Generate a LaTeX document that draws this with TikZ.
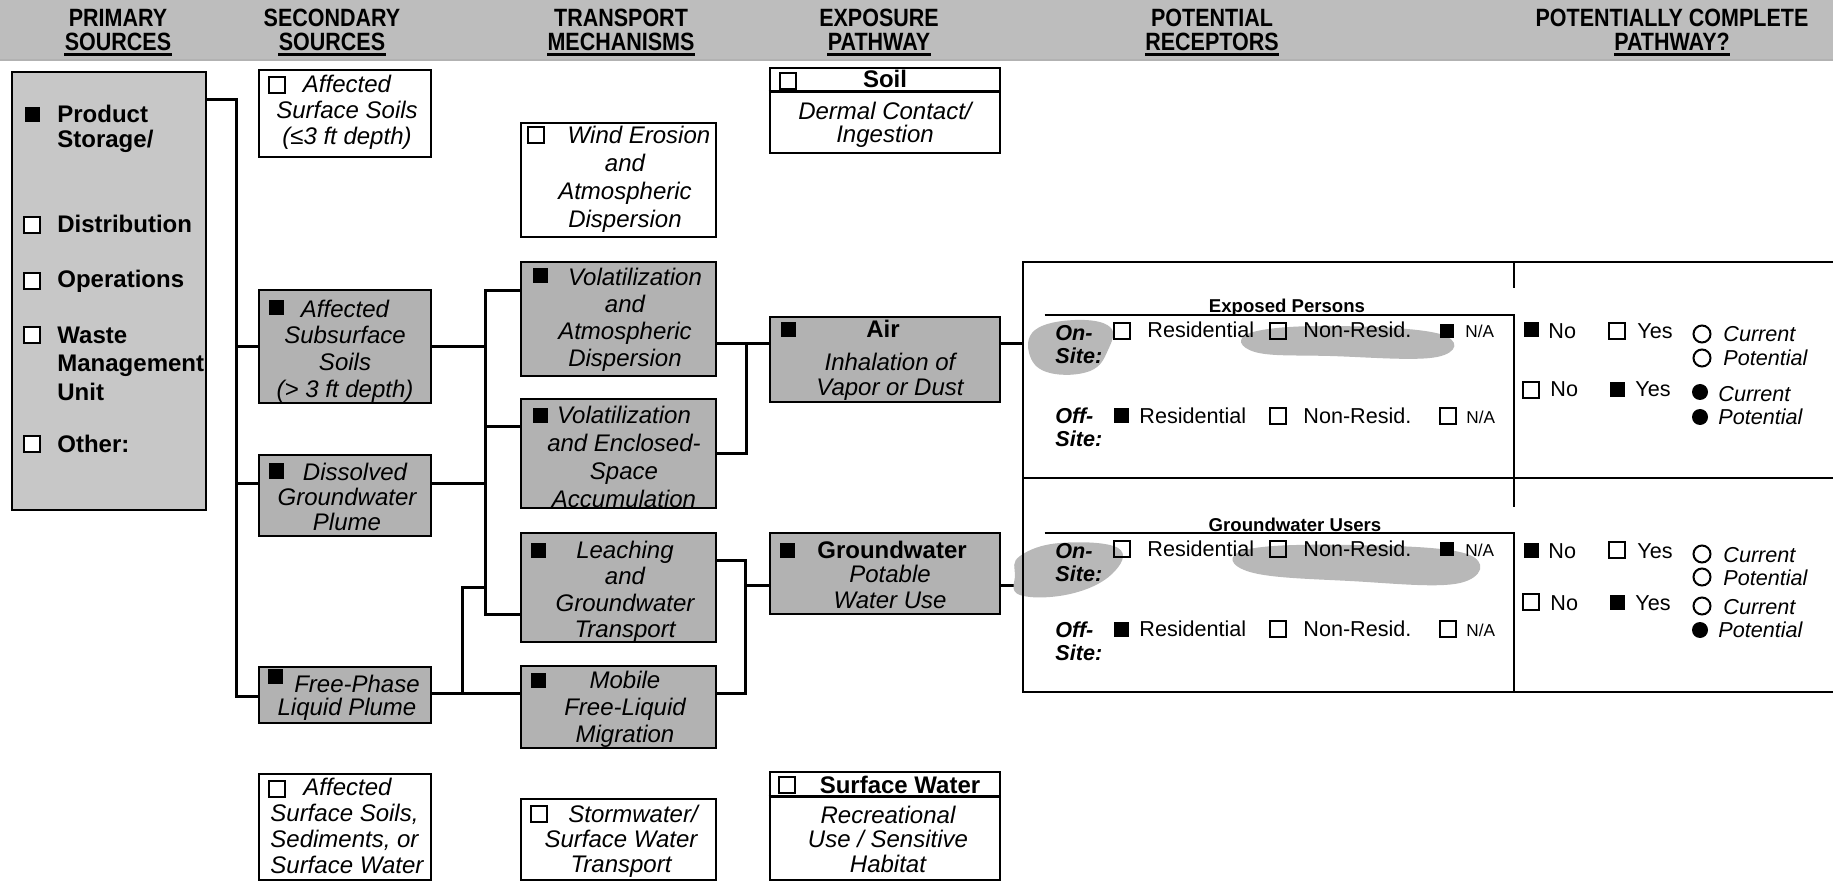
\documentclass[tikz,border=0pt]{standalone}
\usepackage{fontspec}
\setmainfont{Liberation Sans}
\newfontfamily\hdrfont[FakeStretch=0.86]{Liberation Sans}
\usetikzlibrary{fit,calc}
\definecolor{bandgray}{gray}{0.74}
\definecolor{boxgray}{gray}{0.70}
\definecolor{primgray}{gray}{0.78}
\definecolor{hlgray}{gray}{0.72}
\tikzset{
  bx/.style={draw=black, line width=1.4pt, inner sep=0pt},
  gbx/.style={bx, fill=boxgray},
  wbx/.style={bx, fill=white},
  conn/.style={line width=1.5pt},
  tline/.style={line width=1pt},
  ul/.style={line width=1.2pt},
  it/.style={inner sep=0pt, align=center, font=\fontsize{12pt}{#1}\selectfont\itshape},
  itl/.style={inner sep=0pt, align=left, font=\fontsize{12pt}{#1}\selectfont\itshape},
  bd/.style={inner sep=0pt, font=\fontsize{12pt}{14pt}\selectfont\bfseries},
  bdl/.style={inner sep=0pt, align=left, font=\fontsize{12pt}{#1}\selectfont\bfseries},
  hd/.style={inner sep=0pt, anchor=base, text depth=1.5pt, font=\hdrfont\fontsize{12.5pt}{14pt}\selectfont\bfseries},
  chk/.style={draw=black, line width=1.1pt, minimum size=8pt, inner sep=0pt},
  chkw/.style={chk, fill=white},
  chkf/.style={fill=black, minimum size=7.5pt, inner sep=0pt},
  circ/.style={circle, draw=black, line width=1pt, minimum size=8.5pt, inner sep=0pt},
  circf/.style={circle, fill=black, minimum size=8pt, inner sep=0pt},
  tx/.style={inner sep=0pt, anchor=base west, font=\fontsize{10.8pt}{12pt}\selectfont},
  txs/.style={inner sep=0pt, anchor=base west, font=\fontsize{8.6pt}{10pt}\selectfont},
  txi/.style={inner sep=0pt, anchor=base west, font=\fontsize{10.8pt}{12pt}\selectfont\itshape},
  site/.style={inner sep=0pt, align=left, anchor=north west, font=\fontsize{10.8pt}{11.5pt}\selectfont\bfseries\itshape},
  ttl/.style={inner sep=0pt, anchor=base, font=\fontsize{9.3pt}{11pt}\selectfont\bfseries},
  hl/.style={fill=hlgray},
}
\begin{document}
\begin{tikzpicture}[x=0.5pt, y=-0.5pt]
\fill[white] (0,0) rectangle (1833,882);
\useasboundingbox (0,0) rectangle (1833,882);

% header band
\fill[bandgray] (0,0) rectangle (1833,60);
\draw[line width=0.8pt, gray!60] (0,60) -- (1833,60);
\node[hd] (h1a) at (118,27) {PRIMARY};
\node[hd] (h1b) at (118,51) {SOURCES};
\node[hd] (h2a) at (332,27) {SECONDARY};
\node[hd] (h2b) at (332,51) {SOURCES};
\node[hd] (h3a) at (621,27) {TRANSPORT};
\node[hd] (h3b) at (621,51) {MECHANISMS};
\node[hd] (h4a) at (879,27) {EXPOSURE};
\node[hd] (h4b) at (879,51) {PATHWAY};
\node[hd] (h5a) at (1212,27) {POTENTIAL};
\node[hd] (h5b) at (1212,51) {RECEPTORS};
\node[hd] (h6a) at (1672,27) {POTENTIALLY COMPLETE};
\node[hd] (h6b) at (1672,51) {PATHWAY?};
\foreach \h in {h1b,h2b,h3b,h4b,h5b,h6b}
  \draw[ul] (\h.south west) -- (\h.south east);

% ---------- boxes ----------
\node[bx, fill=primgray, fit={(12,72) (206,510)}] (prim) {};
\node[wbx, fit={(259,70) (431,157)}] (ss1) {};
\node[gbx, fit={(259,290) (431,403)}] (ss2) {};
\node[gbx, fit={(259,455) (431,536)}] (ss3) {};
\node[gbx, fit={(259,667) (431,723)}] (ss4) {};
\node[wbx, fit={(259,774) (431,880)}] (ss5) {};

\node[wbx, fit={(521,123) (716,237)}] (tr1) {};
\node[gbx, fit={(521,262) (716,376)}] (tr2) {};
\node[gbx, fit={(521,399) (716,508)}] (tr3) {};
\node[gbx, fit={(521,533) (716,642)}] (tr4) {};
\node[gbx, fit={(521,666) (716,748)}] (tr5) {};
\node[wbx, fit={(521,799) (716,880)}] (tr6) {};

\node[wbx, fit={(770,68) (1000,153)}] (ex1) {};
\node[gbx, fit={(770,317) (1000,402)}] (ex2) {};
\node[gbx, fit={(770,533) (1000,614)}] (ex3) {};
\node[wbx, fit={(770,772) (1000,880)}] (ex4) {};
\draw[line width=1.2pt] ($(ex1.north west)+(0,25)$) -- ($(ex1.north east)+(0,25)$);
\draw[line width=1.2pt] ($(ex4.north west)+(0,26)$) -- ($(ex4.north east)+(0,26)$);

% ---------- connectors ----------
\coordinate (jP) at (236,100);
\coordinate (jPb) at (236,696);
\coordinate (jS2) at (236,347);
\coordinate (jS3) at (236,483);
\draw[conn] (prim.east |- jP) -- (jP) -- (jPb) -- (ss4.west |- jPb);
\draw[conn] (jS2) -- (ss2.west |- jS2);
\draw[conn] (jS3) -- (ss3.west |- jS3);

\coordinate (kT) at (485,291);
\coordinate (kB) at (485,614);
\coordinate (kS2) at (485,347);
\coordinate (kS3) at (485,483);
\coordinate (kT3) at (485,427);
\coordinate (kF) at (485,587);
\draw[conn] (ss2.east |- kS2) -- (kS2);
\draw[conn] (ss3.east |- kS3) -- (kS3);
\draw[conn] (tr2.west |- kT) -- (kT) -- (kB) -- (tr4.west |- kB);
\draw[conn] (kT3) -- (tr3.west |- kT3);

\coordinate (mF) at (462,693);
\coordinate (mF2) at (462,587);
\draw[conn] (ss4.east |- mF) -- (tr5.west |- mF);
\draw[conn] (mF) -- (mF2) -- (kF);

\coordinate (nA) at (746,344);
\coordinate (nA2) at (746,454);
\draw[conn] (tr2.east |- nA) -- (ex2.west |- nA);
\draw[conn] (nA) -- (nA2) -- (tr3.east |- nA2);

\coordinate (nG1) at (745,560);
\coordinate (nG2) at (745,693);
\coordinate (nG) at (745,585);
\draw[conn] (tr4.east |- nG1) -- (nG1) -- (nG2) -- (tr5.east |- nG2);
\draw[conn] (nG) -- (ex3.west |- nG);

% ---------- receptor table ----------
\node[fit={(1023,262) (1833,478)}, inner sep=0pt] (tA) {};
\node[fit={(1023,478) (1833,692)}, inner sep=0pt] (tB) {};
\node[fit={(1045,315) (1514,478)}, inner sep=0pt] (eA) {};
\node[fit={(1045,533) (1514,692)}, inner sep=0pt] (eB) {};
\draw[conn] (ex2.east |- nA) -- (tA.west |- nA);
\draw[conn] (ex3.east |- nG) -- (tB.west |- nG);

% highlighter marks
\fill[hl] plot[smooth cycle, tension=0.7] coordinates {(1035,330) (1075,320) (1110,327) (1108,350) (1090,371) (1050,373) (1030,356)};
\fill[hl] plot[smooth cycle, tension=0.7] coordinates {(1250,333) (1330,326) (1440,334) (1437,357) (1330,356) (1255,352)};
\fill[hl] plot[smooth cycle, tension=0.7] coordinates {(1020,556) (1060,543) (1118,548) (1112,574) (1070,594) (1020,595) (1015,575)};
\fill[hl] plot[smooth cycle, tension=0.7] coordinates {(1245,550) (1350,545) (1467,554) (1460,583) (1350,581) (1250,572)};

\draw[tline] (tA.north east) -- (tA.north west) -- (tB.south west) -- (tB.south east);
\draw[tline] (tA.south west) -- (tA.south east);
\draw[tline] (eA.north west) -- (eA.north east) -- (eA.south east);
\draw[tline] (eB.north west) -- (eB.north east) -- (eB.south east);
\draw[tline] (eA.north east |- tA.north) -- ++(0,26);
\draw[tline] (eA.south east) -- ++(0,29);

% ---------- primary texts ----------
\node[chkf] (pc1) at (32,115) {};
\node[chkw] (pc2) at (32,225) {};
\node[chkw] (pc3) at (32,281) {};
\node[chkw] (pc4) at (32,335) {};
\node[chkw] (pc5) at (32,444) {};
\node[bdl=12.5pt, anchor=north west] (p1) at (57,103) {\rule{0pt}{9.5pt}Product\\Storage/};
\node[bd, anchor=base west] (p2) at (57,233) {Distribution};
\node[bd, anchor=base west] (p3) at (57,288) {Operations};
\node[bdl=14.25pt, anchor=north west] (p4) at (57,324) {\rule{0pt}{9.5pt}Waste\\Management\\Unit};
\node[bd, anchor=base west] (p5) at (57,452) {Other:};

% ---------- secondary texts ----------
\node[chk] (sc1) at (277,85) {};
\node[chkf] (sc2) at (276,308) {};
\node[chkf] (sc3) at (276,471) {};
\node[chkf] (sc4) at (275,676) {};
\node[chk] (sc5) at (277,789) {};
\node[it=13pt, anchor=north] (ss1t) at (347,73) {\rule{0pt}{9.5pt}Affected\\Surface Soils\\(≤3 ft depth)};
\node[it=13.3pt, anchor=north] (ss2t) at (345,298) {\rule{0pt}{9.5pt}Affected\\Subsurface\\Soils\\(> 3 ft depth)};
\node[it=12.5pt, anchor=north] (ss3t) at (347,461) {\rule{0pt}{9.5pt}\hspace*{8pt}Dissolved\\Groundwater\\Plume};
\node[it=11.5pt, anchor=north] (ss4t) at (347,673) {\rule{0pt}{9.5pt}\hspace*{10pt}Free-Phase\\Liquid Plume};
\node[itl=13pt, anchor=north west] (ss5t) at (270,776) {\rule{0pt}{9.5pt}\hspace*{16.5pt}Affected\\Surface Soils,\\Sediments, or\\Surface Water};

% ---------- transport texts ----------
\node[chk] (tc1) at (536,135) {};
\node[chkf] (tc2) at (540,276) {};
\node[chkf] (tc3) at (540,416) {};
\node[chkf] (tc4) at (538,550) {};
\node[chkf] (tc5) at (538,680) {};
\node[chk] (tc6) at (539,814) {};
\node[it=14pt, anchor=north] (tr1t) at (625,124) {\rule{0pt}{9.5pt}\hspace*{14pt}Wind Erosion\\and\\Atmospheric\\Dispersion};
\node[it=13.5pt, anchor=north] (tr2t) at (625,266) {\rule{0pt}{9.5pt}\hspace*{10pt}Volatilization\\and\\Atmospheric\\Dispersion};
\node[it=14pt, anchor=north] (tr3t) at (624,404) {\rule{0pt}{9.5pt}Volatilization\\and Enclosed-\\Space\\Accumulation};
\node[it=13.25pt, anchor=north] (tr4t) at (625,539) {\rule{0pt}{9.5pt}Leaching\\and\\Groundwater\\Transport};
\node[it=13.5pt, anchor=north] (tr5t) at (625,669) {\rule{0pt}{9.5pt}Mobile\\Free-Liquid\\Migration};
\node[it=12.5pt, anchor=north] (tr6t) at (621,803) {\rule{0pt}{9.5pt}\hspace*{12pt}Stormwater/\\Surface Water\\Transport};

% ---------- exposure texts ----------
\node[chk] (xc1) at (788,81) {};
\node[chkf] (xc2) at (788,330) {};
\node[chkf] (xc3) at (787,550) {};
\node[chk] (xc4) at (787,785) {};
\node[bd, anchor=base] (ex1h) at (885,88) {Soil};
\node[it=11.5pt, anchor=north] (ex1t) at (885,100) {\rule{0pt}{9.5pt}Dermal Contact/\\Ingestion};
\node[bd, anchor=base] (ex2h) at (883,338) {Air};
\node[it=12.5pt, anchor=north] (ex2t) at (890,351) {\rule{0pt}{9.5pt}Inhalation of\\Vapor or Dust};
\node[bd, anchor=base] (ex3h) at (892,558) {Groundwater};
\node[it=13pt, anchor=north] (ex3t) at (890,563) {\rule{0pt}{9.5pt}Potable\\Water Use};
\node[bd, anchor=base] (ex4h) at (900,793) {Surface Water};
\node[it=12.25pt, anchor=north] (ex4t) at (888,804) {\rule{0pt}{9.5pt}Recreational\\Use / Sensitive\\Habitat};

% ---------- receptors: exposed persons ----------
\node[ttl] (aT) at (1287,313) {Exposed Persons};
\node[site] (aOn) at (1055,324) {\rule{0pt}{8pt}On-\\Site:};
\node[chk] (aC1) at (1122,331) {};
\node[tx] (aR1) at (1147,338) {Residential};
\node[chk] (aC2) at (1278,331) {};
\node[tx] (aN1) at (1303,338) {Non-Resid.};
\node[chkf, minimum size=7pt] (aC3) at (1447,331) {};
\node[txs] (aA1) at (1465,338) {N/A};
\node[site] (aOff) at (1055,407) {\rule{0pt}{8pt}Off-\\Site:};
\node[chkf] (aC4) at (1121,416) {};
\node[tx] (aR2) at (1139,423) {Residential};
\node[chk] (aC5) at (1278,416) {};
\node[tx] (aN2) at (1303,423) {Non-Resid.};
\node[chk] (aC6) at (1448,416) {};
\node[txs] (aA2) at (1466,423) {N/A};

\node[chkf] (aQ1) at (1531,330) {};
\node[tx] (aNo1) at (1548,339) {No};
\node[chk] (aQ2) at (1617,331) {};
\node[tx] (aYes1) at (1637,339) {Yes};
\node[circ] (aO1) at (1702,334) {};
\node[txi] (aCur1) at (1723,342) {Current};
\node[circ] (aO2) at (1702,358) {};
\node[txi] (aPot1) at (1723,366) {Potential};
\node[chk] (aQ3) at (1531,390) {};
\node[tx] (aNo2) at (1550,397) {No};
\node[chkf] (aQ4) at (1617,390) {};
\node[tx] (aYes2) at (1635,397) {Yes};
\node[circf] (aO3) at (1700,392) {};
\node[txi] (aCur2) at (1718,401) {Current};
\node[circf] (aO4) at (1700,417) {};
\node[txi] (aPot2) at (1718,424) {Potential};

% ---------- receptors: groundwater users ----------
\node[ttl] (bT) at (1295,531) {Groundwater Users};
\node[site] (bOn) at (1055,542) {\rule{0pt}{8pt}On-\\Site:};
\node[chk] (bC1) at (1122,549) {};
\node[tx] (bR1) at (1147,556) {Residential};
\node[chk] (bC2) at (1278,549) {};
\node[tx] (bN1) at (1303,556) {Non-Resid.};
\node[chkf, minimum size=7pt] (bC3) at (1447,549) {};
\node[txs] (bA1) at (1465,556) {N/A};
\node[site] (bOff) at (1055,621) {\rule{0pt}{8pt}Off-\\Site:};
\node[chkf] (bC4) at (1121,629) {};
\node[tx] (bR2) at (1139,636) {Residential};
\node[chk] (bC5) at (1278,629) {};
\node[tx] (bN2) at (1303,636) {Non-Resid.};
\node[chk] (bC6) at (1448,629) {};
\node[txs] (bA2) at (1466,636) {N/A};

\node[chkf] (bQ1) at (1531,550) {};
\node[tx] (bNo1) at (1548,558) {No};
\node[chk] (bQ2) at (1617,550) {};
\node[tx] (bYes1) at (1637,558) {Yes};
\node[circ] (bO1) at (1702,554) {};
\node[txi] (bCur1) at (1723,562) {Current};
\node[circ] (bO2) at (1702,577) {};
\node[txi] (bPot1) at (1723,585) {Potential};
\node[chk] (bQ3) at (1531,602) {};
\node[tx] (bNo2) at (1550,610) {No};
\node[chkf] (bQ4) at (1617,602) {};
\node[tx] (bYes2) at (1635,610) {Yes};
\node[circ] (bO3) at (1702,606) {};
\node[txi] (bCur2) at (1723,614) {Current};
\node[circf] (bO4) at (1700,630) {};
\node[txi] (bPot2) at (1718,637) {Potential};
\end{tikzpicture}
\end{document}
